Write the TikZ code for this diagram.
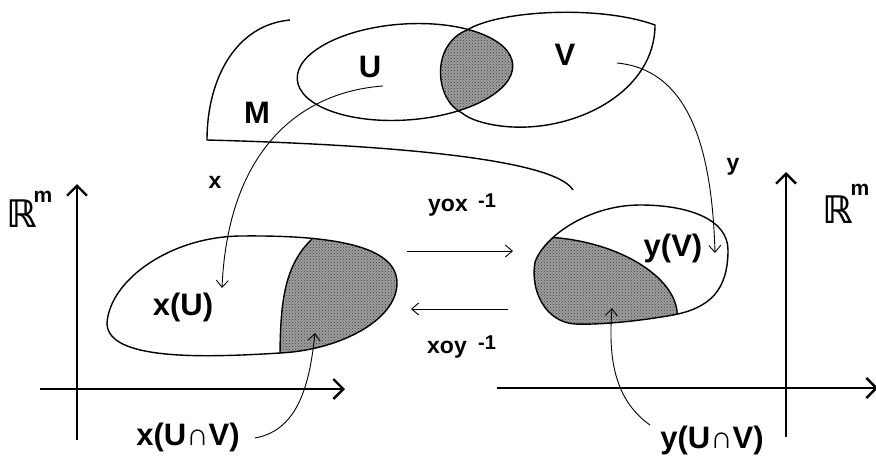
\documentclass[tikz,border=0pt]{standalone}
\usepackage{fontspec}
\setmainfont{Liberation Sans}
\newfontfamily\dvfont{DejaVu Sans}
\usetikzlibrary{arrows.meta,patterns}
\begin{document}
\begin{tikzpicture}[x=1pt,y=-1pt,
  lab/.style={font=\bfseries\fontsize{31}{31}\selectfont, inner sep=0pt},
  small/.style={font=\bfseries\fontsize{23}{23}\selectfont, inner sep=0pt},
  sup/.style={font=\bfseries\fontsize{20}{20}\selectfont, inner sep=0pt},
  rr/.style={font=\dvfont\bfseries\fontsize{38}{38}\selectfont, inner sep=0pt},
  rsup/.style={font=\bfseries\fontsize{21}{21}\selectfont, inner sep=0pt},
  outline/.style={line width=1.4pt},
  mapto/.style={line width=0.9pt, -{Straight Barb[length=7pt,width=12pt,line width=0.9pt]}},
  axis/.style={line width=2.4pt, -{Straight Barb[length=10pt,width=20pt,line width=2.4pt]}},
  shadefill/.style={fill=black!38},
  shadedots/.style={pattern=crosshatch dots, pattern color=black!75}]
\useasboundingbox (0,0) rectangle (876,456);

% ---- manifold M ----
\draw[outline] (290,20) .. controls (235,25) and (207,80) .. (207,140)
   .. controls (400,145) and (555,160) .. (573,190);

% ---- U and V ----
\begin{scope}
  \clip (405,72) ellipse [x radius=108, y radius=48, rotate=4];
  \fill[shadefill] (655,25) .. controls (600,5) and (500,10) .. (467,30)
     .. controls (430,45) and (435,100) .. (462,113)
     .. controls (470,120) and (490,126) .. (513,127)
     .. controls (580,130) and (655,90) .. (655,25) -- cycle;
  \fill[shadedots] (655,25) .. controls (600,5) and (500,10) .. (467,30)
     .. controls (430,45) and (435,100) .. (462,113)
     .. controls (470,120) and (490,126) .. (513,127)
     .. controls (580,130) and (655,90) .. (655,25) -- cycle;
\end{scope}
\draw[outline] (405,72) ellipse [x radius=108, y radius=48, rotate=4];
\draw[outline] (655,25) .. controls (600,5) and (500,10) .. (467,30)
   .. controls (430,45) and (435,100) .. (462,113)
   .. controls (470,120) and (490,126) .. (513,127)
   .. controls (580,130) and (655,90) .. (655,25) -- cycle;

\node[lab] (U) at (370,67) {U};
\node[lab] (V) at (565,55) {V};
\node[lab] (M) at (257,113) {M};

% ---- left chart image x(U) ----
\begin{scope}
  \clip (107,323) .. controls (110,280) and (170,237) .. (240,236)
     .. controls (330,235) and (397,245) .. (397,283)
     .. controls (397,320) and (340,350) .. (280,353)
     .. controls (200,358) and (107,360) .. (107,323) -- cycle;
  \fill[shadefill] (312,239) .. controls (285,265) and (280,300) .. (280,360)
     -- (420,360) -- (420,230) -- (312,230) -- cycle;
  \fill[shadedots] (312,239) .. controls (285,265) and (280,300) .. (280,360)
     -- (420,360) -- (420,230) -- (312,230) -- cycle;
  \draw[outline] (312,239) .. controls (285,265) and (280,300) .. (280,360);
\end{scope}
\draw[outline] (107,323) .. controls (110,280) and (170,237) .. (240,236)
   .. controls (330,235) and (397,245) .. (397,283)
   .. controls (397,320) and (340,350) .. (280,353)
   .. controls (200,358) and (107,360) .. (107,323) -- cycle;

% ---- right chart image y(V) ----
\begin{scope}
  \clip (535,262) .. controls (545,235) and (590,205) .. (640,205)
     .. controls (690,205) and (728,220) .. (728,250)
     .. controls (728,290) and (710,308) .. (673,315)
     .. controls (640,321) and (600,325) .. (575,324)
     .. controls (545,322) and (530,290) .. (535,262) -- cycle;
  \fill[shadefill] (545,237) .. controls (620,240) and (682,280) .. (677,320)
     -- (677,340) -- (510,340) -- (510,237) -- cycle;
  \fill[shadedots] (545,237) .. controls (620,240) and (682,280) .. (677,320)
     -- (677,340) -- (510,340) -- (510,237) -- cycle;
  \draw[outline] (545,237) .. controls (620,240) and (682,280) .. (677,320);
\end{scope}
\draw[outline] (535,262) .. controls (545,235) and (590,205) .. (640,205)
   .. controls (690,205) and (728,220) .. (728,250)
   .. controls (728,290) and (710,308) .. (673,315)
   .. controls (640,321) and (600,325) .. (575,324)
   .. controls (545,322) and (530,290) .. (535,262) -- cycle;

\node[lab] (xU) at (183,307) {x(U)};
\node[lab] (yV) at (673,248) {y(V)};
\node[lab] (xUV) at (188,437) {x(U∩V)};
\node[lab] (yUV) at (712,440) {y(U∩V)};

% ---- axes ----
\coordinate (lo) at (77,440);  \coordinate (lt) at (77,184);
\coordinate (ll) at (40,389);  \coordinate (lr) at (345,389);
\draw[axis] (lo) -- (lt);
\draw[axis] (ll) -- (lr);
\coordinate (ro) at (786,437); \coordinate (rt) at (786,172);
\coordinate (rl) at (497,388); \coordinate (rr) at (878,388);
\draw[axis] (ro) -- (rt);
\draw[axis] (rl) -- (rr);
\node[rr] (R1) at (22,214) {ℝ};
\node[rsup] (m1) at (43,197) {m};
\node[rr] (R2) at (838,210) {ℝ};
\node[rsup] (m2) at (860,190) {m};

% ---- maps ----
\coordinate (xs) at (383,86);  \coordinate (xe) at (222,288);
\draw[mapto] (xs) .. controls (300,92) and (228,150) .. (xe);
\node[small] (xl) at (215,182) {x};
\coordinate (ys) at (617,63);  \coordinate (ye) at (715,253);
\draw[mapto] (ys) .. controls (690,70) and (712,150) .. (ye);
\node[small] (yl) at (733,167) {y};

\coordinate (a1) at (407,251); \coordinate (a2) at (513,251);
\draw[mapto] (a1) -- (a2);
\coordinate (b1) at (508,309); \coordinate (b2) at (411,309);
\draw[mapto] (b1) -- (b2);
\node[small] (yox) at (448,208) {yox};
\node[sup] (s1) at (487,201) {-1};
\node[small] (xoy) at (447,350) {xoy};
\node[sup] (s2) at (487,343) {-1};

% ---- pointers to intersections ----
\coordinate (p1) at (255,438); \coordinate (q1) at (315,333);
\draw[mapto] (p1) .. controls (300,430) and (310,380) .. (q1);
\coordinate (p2) at (650,425); \coordinate (q2) at (612,308);
\draw[mapto] (p2) .. controls (615,400) and (608,360) .. (q2);
\end{tikzpicture}
\end{document}
